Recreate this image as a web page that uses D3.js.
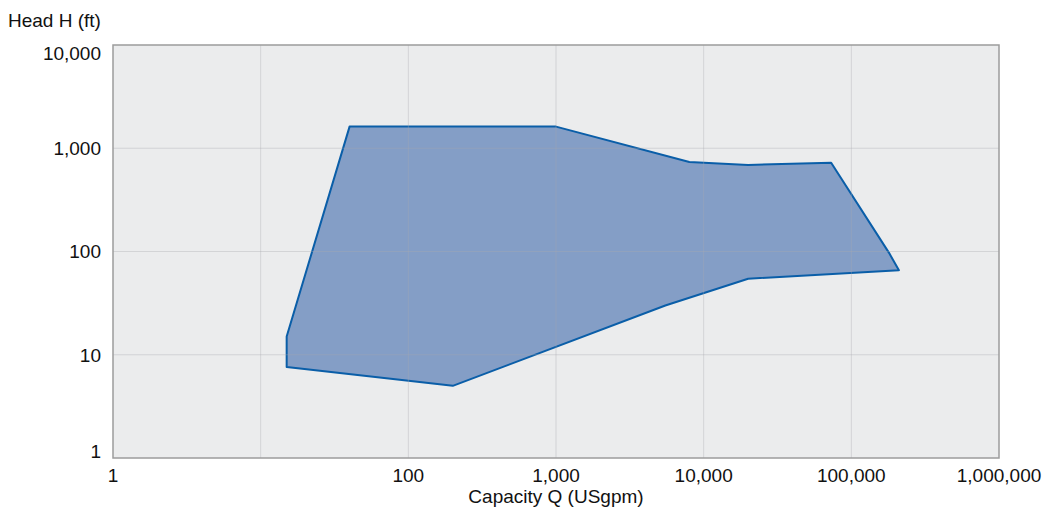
<!DOCTYPE html>
<html>
<head>
<meta charset="utf-8">
<script src="https://cdn.jsdelivr.net/npm/d3@7"></script>
<style>
  body { margin: 0; background: #fff; }
  text { font-family: "Liberation Sans", Arial, sans-serif; fill: #111; }
</style>
</head>
<body>
<div id="chart"></div>
<script>
// polygon outline of the pump range, clockwise from the left edge
const capacity = [15, 40, 1000, 8000, 20000, 73000, 180000, 210000, 20000, 5500, 200, 15];
const head     = [15, 1620, 1620, 735, 690, 725, 97, 66, 54.5, 30, 5, 7.6];

const gridX = [1, 10, 100, 1000, 10000, 100000, 1000000];
const gridY = [1, 10, 100, 1000, 10000];
const xTickLabels = [1, 100, 1000, 10000, 100000, 1000000];
const yTickLabels = [1, 10, 100, 1000, 10000];

const W = 1043, H = 517;
const margin = {top: 45, right: 44, bottom: 59, left: 113},
  width = W - margin.left - margin.right,
  height = H - margin.top - margin.bottom;

const svg = d3.select("#chart")
  .append("svg")
  .attr("width", W)
  .attr("height", H);

const g = svg.append("g")
  .attr("transform", "translate(" + margin.left + "," + margin.top + ")");

const x = d3.scaleLog().domain([1, 1000000]).range([0, width]);
const y = d3.scaleLog().domain([1, 10000]).range([height, 0]);
const fmt = d3.format(",");

// plot background
g.append("rect")
  .attr("width", width)
  .attr("height", height)
  .attr("fill", "#ebeced");

// area
const pts = capacity.map((c, i) => [x(c), y(head[i])]);
g.append("path")
  .attr("d", d3.line()(pts) + "Z")
  .attr("fill", "#849ec6")
  .attr("stroke", "#0a5ea8")
  .attr("stroke-width", 2)
  .attr("stroke-linejoin", "round");

// grid on top, semi transparent
g.append("g").selectAll("line")
  .data(gridX.slice(1, -1))
  .enter().append("line")
  .attr("x1", d => x(d)).attr("x2", d => x(d))
  .attr("y1", 0).attr("y2", height)
  .attr("stroke", "rgba(168,170,174,0.36)")
  .attr("stroke-width", 1);

g.append("g").selectAll("line")
  .data(gridY.slice(1, -1))
  .enter().append("line")
  .attr("x1", 0).attr("x2", width)
  .attr("y1", d => y(d)).attr("y2", d => y(d))
  .attr("stroke", "rgba(168,170,174,0.36)")
  .attr("stroke-width", 1);

// frame
g.append("rect")
  .attr("width", width)
  .attr("height", height)
  .attr("fill", "none")
  .attr("stroke", "#9c9c9c")
  .attr("stroke-width", 1.5);

// y tick labels (end labels kept inside the frame)
g.append("g").selectAll("text")
  .data(yTickLabels)
  .enter().append("text")
  .attr("x", -12)
  .attr("y", d => Math.min(Math.max(y(d), 8), height - 7))
  .attr("dy", "0.36em")
  .attr("text-anchor", "end")
  .style("font-size", "19px")
  .text(d => fmt(d));

// x tick labels
g.append("g").selectAll("text")
  .data(xTickLabels)
  .enter().append("text")
  .attr("x", d => x(d))
  .attr("y", height + 24)
  .attr("text-anchor", "middle")
  .style("font-size", "19px")
  .text(d => fmt(d));

// axis titles
svg.append("text")
  .attr("x", margin.left + width / 2)
  .attr("y", 503)
  .attr("text-anchor", "middle")
  .style("font-size", "19px")
  .text("Capacity Q (USgpm)");

svg.append("text")
  .attr("x", 8)
  .attr("y", 27)
  .style("font-size", "19px")
  .text("Head H (ft)");
</script>
</body>
</html>
